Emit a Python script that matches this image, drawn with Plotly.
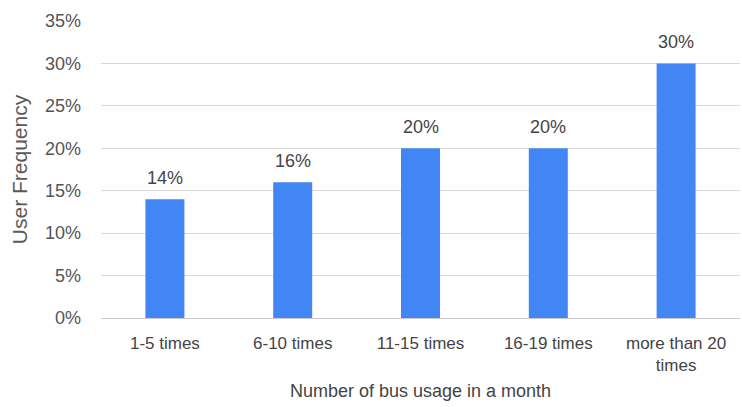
import plotly.graph_objects as go

categories = ["1-5 times", "6-10 times", "11-15 times", "16-19 times", "more than 20<br>times"]
values = [14, 16, 20, 20, 30]
labels = [f"{v}%" for v in values]
y_ticks = [0, 5, 10, 15, 20, 25, 30, 35]
y_tick_text = [f"{t}%" for t in y_ticks]

FONT = "Liberation Sans, Arial"

fig = go.Figure(go.Bar(
    x=categories, y=values,
    marker=dict(color="#4285F4", line=dict(width=0)),
    width=0.305, hoverinfo="skip",
))

for c, v, t in zip(categories, values, labels):
    fig.add_annotation(x=c, y=v, text=t, showarrow=False, yanchor="middle",
                       yshift=21, font=dict(family=FONT, size=18, color="#444444"))

fig.update_layout(
    width=742, height=407,
    margin=dict(l=101, r=2, t=21, b=89),
    paper_bgcolor="white", plot_bgcolor="white",
    showlegend=False,
    font=dict(family=FONT, size=17, color="#555555"),
    xaxis=dict(
        title=dict(text="Number of bus usage in a month", font=dict(size=18, color="#444444"), standoff=10),
        tickfont=dict(size=17, color="#444444"),
        showgrid=False, showline=False, ticks="", ticklabelstandoff=13,
    ),
    yaxis=dict(
        title=dict(text="User Frequency", font=dict(size=21, color="#595959"), standoff=11),
        range=[0, 35], tickvals=y_ticks, ticktext=y_tick_text,
        tickfont=dict(size=18, color="#555555"),
        showgrid=True, gridcolor="#d9d9d9", gridwidth=1,
        zeroline=True, zerolinecolor="#cccccc", zerolinewidth=1,
        showline=False, ticks="", ticklabelstandoff=19,
    ),
)

fig.write_html("out.html")
